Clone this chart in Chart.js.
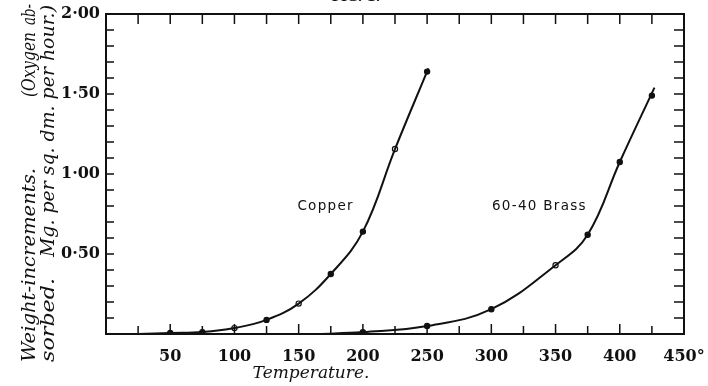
<!DOCTYPE html>
<html>
<head>
<meta charset="utf-8">
<script src="https://cdn.jsdelivr.net/npm/chart.js@4.4.1/dist/chart.umd.min.js"></script>
<style>
  html, body { margin: 0; padding: 0; background: #fff; }
</style>
</head>
<body>
<canvas id="fig" width="708" height="386"></canvas>
<script>
// Weight increments (mg per sq. dm. per hour)
const copperTemps = [50, 75, 100, 125, 150, 175, 200, 225, 250];
const copperGain = [0.006, 0.012, 0.037, 0.088, 0.19, 0.375, 0.64, 1.156, 1.64];
const copperOpen = [false, false, true, false, true, false, false, true, false];

const brassTemps = [200, 250, 300, 350, 375, 400, 425];
const brassGain = [0.012, 0.05, 0.155, 0.43, 0.62, 1.075, 1.49];
const brassOpen = [false, false, false, true, false, false, false];

// the hand-drawn curves start before and stop just past the points
const copperCurveTemps = [25, 50, 75, 100, 125, 150, 175, 200, 225, 251];
const copperCurveGain = [0.0, 0.006, 0.012, 0.037, 0.088, 0.19, 0.375, 0.64, 1.156, 1.66];
const brassCurveTemps = [165, 200, 250, 300, 350, 375, 400, 427];
const brassCurveGain = [0.0, 0.012, 0.05, 0.155, 0.43, 0.62, 1.075, 1.54];

// tick labels
const xTicks = [50, 100, 150, 200, 250, 300, 350, 400, 450];
const xTickLabels = ["50", "100", "150", "200", "250", "300", "350", "400", "450°"];
const yTicks = [0.5, 1.0, 1.5, 2.0];
const yTickLabels = ["0·50", "1·00", "1·50", "2·00"];

const ink = "#111";

const toPoints = (xs, ys) => xs.map((x, i) => ({ x: x, y: ys[i] }));

// draw a word group along the rotated y title, squeezed to run from y0 up to y1
const rotatedText = (ctx, text, x, y0, y1) => {
  const w = ctx.measureText(text).width;
  ctx.save();
  ctx.translate(x, y0);
  ctx.rotate(-Math.PI / 2);
  ctx.scale((y0 - y1) / w, 1);
  ctx.textAlign = "left";
  ctx.fillText(text, 0, 0);
  ctx.restore();
};

// frame, inward ticks and all the loose text
const figureDecor = {
  id: "figureDecor",
  afterDraw(chart) {
    const ctx = chart.ctx;
    const a = chart.chartArea;
    const xs = chart.scales.x;
    const ys = chart.scales.y;
    ctx.save();
    ctx.strokeStyle = ink;
    ctx.lineWidth = 2;
    ctx.strokeRect(a.left, a.top, a.right - a.left, a.bottom - a.top);

    ctx.lineWidth = 1.5;
    ctx.beginPath();
    for (let t = 25; t < 450; t += 25) {
      const px = xs.getPixelForValue(t);
      const len = t % 50 === 0 ? 10 : 8;
      ctx.moveTo(px, a.bottom);
      ctx.lineTo(px, a.bottom - len);
      ctx.moveTo(px, a.top);
      ctx.lineTo(px, a.top + 10);
    }
    for (let i = 1; i < 20; i++) {
      const py = ys.getPixelForValue(i / 10);
      ctx.moveTo(a.left, py);
      ctx.lineTo(a.left + 8, py);
      ctx.moveTo(a.right, py);
      ctx.lineTo(a.right - 10, py);
    }
    ctx.stroke();

    ctx.fillStyle = ink;
    // curve names
    ctx.font = '13.5px "DejaVu Sans"';
    ctx.letterSpacing = "1.3px";
    ctx.textBaseline = "middle";
    ctx.textAlign = "left";
    ctx.fillText("Copper", xs.getPixelForValue(149), ys.getPixelForValue(0.8));
    ctx.fillText("60-40 Brass", xs.getPixelForValue(300.5), ys.getPixelForValue(0.8));
    ctx.letterSpacing = "0px";

    // x title
    ctx.font = 'italic 17px "DejaVu Serif"';
    ctx.textAlign = "center";
    ctx.fillText("Temperature.", 311, 374);

    // figure number, cut off by the top edge
    ctx.font = 'bold 13px "DejaVu Serif"';
    ctx.fillText("FIG. 1.", 356, -2);

    // y title: two rotated lines, word groups placed as in the print
    ctx.font = 'italic 18px "DejaVu Serif"';
    ctx.textBaseline = "middle";
    rotatedText(ctx, "Weight-increments.", 30, 362, 168);
    rotatedText(ctx, "(Oxygen", 30, 97, 32);
    rotatedText(ctx, "ab-", 30, 25, 4);
    rotatedText(ctx, "sorbed.", 49, 362, 278);
    rotatedText(ctx, "Mg. per sq. dm. per hour.)", 49, 257, 5);
    ctx.restore();
  }
};

new Chart(document.getElementById("fig"), {
  type: "scatter",
  data: {
    datasets: [
      {
        label: "Copper curve",
        data: toPoints(copperCurveTemps, copperCurveGain),
        showLine: true,
        borderColor: ink,
        borderWidth: 2,
        pointRadius: 0,
        tension: 0.4
      },
      {
        label: "Brass curve",
        data: toPoints(brassCurveTemps, brassCurveGain),
        showLine: true,
        borderColor: ink,
        borderWidth: 2,
        pointRadius: 0,
        tension: 0.4
      },
      {
        label: "Copper",
        data: toPoints(copperTemps, copperGain),
        pointRadius: 2.6,
        pointBorderWidth: 1.2,
        pointBorderColor: ink,
        pointBackgroundColor: copperOpen.map((o) => (o ? "#fff" : ink))
      },
      {
        label: "60-40 Brass",
        data: toPoints(brassTemps, brassGain),
        pointRadius: 2.6,
        pointBorderWidth: 1.2,
        pointBorderColor: ink,
        pointBackgroundColor: brassOpen.map((o) => (o ? "#fff" : ink))
      }
    ]
  },
  options: {
    responsive: false,
    animation: false,
    devicePixelRatio: 1,
    layout: { padding: { left: 0, right: 24, top: 14, bottom: 0 } },
    plugins: {
      legend: { display: false },
      tooltip: { enabled: false }
    },
    scales: {
      x: {
        type: "linear",
        min: 0,
        max: 450,
        afterFit: (s) => {
          s.height = 52;
          s.paddingLeft = 0;
          s.paddingRight = 0;
        },
        afterBuildTicks: (s) => { s.ticks = xTicks.map((v) => ({ value: v })); },
        grid: { display: false, drawTicks: false },
        border: { display: false },
        ticks: {
          padding: 13,
          color: ink,
          maxRotation: 0,
          autoSkip: false,
          font: { family: "DejaVu Serif", size: 16, weight: "bold" },
          callback: (v) => xTickLabels[xTicks.indexOf(v)]
        }
      },
      y: {
        type: "linear",
        min: 0,
        max: 2,
        afterFit: (s) => {
          s.width = 106;
          s.paddingTop = 0;
          s.paddingBottom = 0;
        },
        afterBuildTicks: (s) => { s.ticks = yTicks.map((v) => ({ value: v })); },
        grid: { display: false, drawTicks: false },
        border: { display: false },
        ticks: {
          padding: 6,
          color: ink,
          autoSkip: false,
          font: { family: "DejaVu Serif", size: 16, weight: "bold" },
          callback: (v) => yTickLabels[yTicks.indexOf(v)]
        }
      }
    }
  },
  plugins: [figureDecor]
});
</script>
</body>
</html>
